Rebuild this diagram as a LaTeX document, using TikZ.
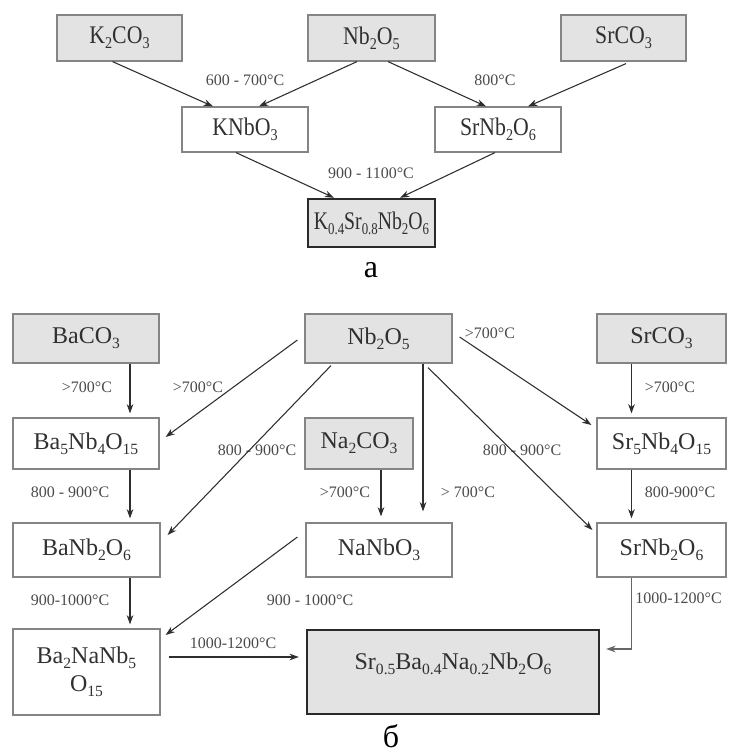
\documentclass[tikz,border=0pt]{standalone}
\usepackage{fontspec}
\setmainfont{Liberation Serif}
\usetikzlibrary{arrows.meta,calc}
\newcommand{\sbs}[1]{\raisebox{-0.2em}{\scalebox{0.65}{#1}}}
\newcommand{\na}[1]{\scalebox{0.86}[1]{#1}}
\definecolor{boxfill}{HTML}{E3E3E3}
\definecolor{boxline}{HTML}{858585}
\definecolor{resline}{HTML}{2A2A2A}
\definecolor{txt}{HTML}{303030}
\definecolor{lblc}{HTML}{4A4A4A}
\definecolor{arrc}{HTML}{2E2E2E}
\begin{document}
\begin{tikzpicture}[x=0.75pt,y=-0.75pt,
  sz/.style 2 args={minimum width=#1*0.75pt, minimum height=#2*0.75pt},
  box/.style={draw=boxline, line width=0.9pt, rectangle, inner sep=0pt, text=txt, align=center},
  abox/.style={box, font=\fontsize{19}{22}\selectfont},
  bbox/.style={box, font=\fontsize{18}{21}\selectfont},
  asrc/.style={abox, fill=boxfill},
  bsrc/.style={bbox, fill=boxfill},
  ares/.style={abox, fill=boxfill, draw=resline, line width=1.8pt},
  bres/.style={bbox, fill=boxfill, draw=resline, line width=1.8pt},
  arr/.style={-{Stealth[length=7pt,width=5pt]}, line width=0.8pt, draw=arrc},
  varr/.style={arr, shorten >=3pt},
  lbl/.style={font=\fontsize{12}{14}\selectfont, text=lblc, inner sep=0pt},
  capst/.style={font=\fontsize{24}{28}\selectfont, text=black, inner sep=0pt}
]
\useasboundingbox (0,0) rectangle (728,755);

% ---------- part a ----------
\node[asrc, sz={125}{46}] (aK)  at (119.5,38) {\na{K\sbs{2}CO\sbs{3}}};
\node[asrc, sz={127}{46}] (aNb) at (371.5,38) {\na{Nb\sbs{2}O\sbs{5}}};
\node[asrc, sz={125}{46}] (aSr) at (623.5,38) {\na{SrCO\sbs{3}}};
\node[abox, sz={126}{45}] (aKN) at (245,129.5) {\na{KNbO\sbs{3}}};
\node[abox, sz={126}{45}] (aSN) at (498,129.5) {\na{SrNb\sbs{2}O\sbs{6}}};
\node[ares, sz={127}{48}] (aF)  at (371.5,223) {\scalebox{0.78}[1]{K\sbs{0.4}Sr\sbs{0.8}Nb\sbs{2}O\sbs{6}}};

\draw[arr] ($(aK.south)+(-7,0)$) -- ($(aKN.north)+(-32,0)$);
\draw[arr] ($(aNb.south)+(-14.5,0)$) -- ($(aKN.north)+(14,0)$);
\draw[arr] ($(aNb.south)+(16.5,0)$) -- ($(aSN.north)+(-12,0)$);
\draw[arr] ($(aSr.south)+(2.5,2)$) -- ($(aSN.north)+(30,0)$);
\draw[arr] ($(aKN.south)+(-9,0)$) -- ($(aF.north)+(-37.5,0)$);
\draw[arr] ($(aSN.south)+(-3,0)$) -- ($(aF.north)+(28.5,0)$);

\node[lbl] (la1) at (245,80) {600 - 700°C};
\node[lbl] (la2) at (495,80) {800°C};
\node[lbl] (la3) at (371,173) {900 - 1100°C};

\node[capst] (capa) at (371,270) {а};

% ---------- part b ----------
\node[bsrc, sz={146}{49}] (bBa) at (86,338.5) {BaCO\sbs{3}};
\node[bsrc, sz={147}{49}] (bNb) at (378.5,338.5) {Nb\sbs{2}O\sbs{5}};
\node[bsrc, sz={129}{49}] (bSr) at (661.5,338.5) {SrCO\sbs{3}};
\node[bbox, sz={146}{51}] (bB5) at (86,443.5) {Ba\sbs{5}Nb\sbs{4}O\sbs{15}};
\node[bsrc, sz={108}{51}] (bNa) at (359,443.5) {Na\sbs{2}CO\sbs{3}};
\node[bbox, sz={129}{51}] (bS5) at (661.5,443.5) {Sr\sbs{5}Nb\sbs{4}O\sbs{15}};
\node[bbox, sz={147}{54}] (bBN) at (86.5,550) {BaNb\sbs{2}O\sbs{6}};
\node[bbox, sz={146}{54}] (bNN) at (379,550) {NaNbO\sbs{3}};
\node[bbox, sz={129}{54}] (bSN) at (661.5,550) {SrNb\sbs{2}O\sbs{6}};
\node[bbox, sz={147}{86}] (bBNa) at (86.5,672) {Ba\sbs{2}NaNb\sbs{5}\\O\sbs{15}};
\node[bres, sz={292}{84}, text depth=16pt] (bF) at (453,672) {Sr\sbs{0.5}Ba\sbs{0.4}Na\sbs{0.2}Nb\sbs{2}O\sbs{6}};

\node[lbl] (lb1)  at (87,387)  {>700°C};
\node[lbl] (lb2)  at (198,387) {>700°C};
\node[lbl] (lb3)  at (257,450) {800 - 900°C};
\node[lbl] (lb4)  at (70,492)  {800 - 900°C};
\node[lbl] (lb5)  at (345,492) {>700°C};
\node[lbl] (lb6)  at (468,492) {> 700°C};
\node[lbl] (lb7)  at (490,333) {>700°C};
\node[lbl] (lb8)  at (522,450) {800 - 900°C};
\node[lbl] (lb9)  at (670,387) {>700°C};
\node[lbl] (lb10) at (680,492) {800-900°C};
\node[lbl] (lb11) at (70,600)  {900-1000°C};
\node[lbl] (lb12) at (310,600) {900 - 1000°C};
\node[lbl, anchor=west] (lb13) at (635,598) {1000-1200°C};
\node[lbl] (lb14) at (233,643) {1000-1200°C};

\draw[varr] ($(bBa.south)+(44,0)$) -- ($(bB5.north)+(44,0)$);
\draw[varr] ($(bB5.south)+(44,0)$) -- ($(bBN.north)+(43.5,0)$);
\draw[varr] ($(bBN.south)+(43.5,0)$) -- ($(bBNa.north)+(43.5,0)$);
\draw[arr] ($(bNb.west)+(-7,1.5)$) -- ($(bB5.east)+(6,-6.5)$);
\draw[arr] ($(bNb.south)+(-47.5,2)$) -- ($(bBN.east)+(7,-15)$);
\draw[arr] ($(bNa.south)+(22,0)$) -- ($(bNN.north)+(2,-6)$);
\draw[arr] ($(bNb.south)+(44.5,0)$) -- ($(bNN.north)+(44,-11)$);
\draw[arr] ($(bNb.east)+(7,-1.5)$) -- ($(bS5.west)+(-5,-18.5)$);
\draw[arr] ($(bNb.south)+(49.5,4)$) -- ($(bSN.west)+(-4,-20)$);
\draw[varr] ($(bSr.south)+(-30,0)$) -- ($(bS5.north)+(-30,0)$);
\draw[varr] ($(bS5.south)+(-30,0)$) -- ($(bSN.north)+(-30,0)$);
\draw[arr] ($(bNN.west)+(-8,-13)$) -- ($(bBNa.east)+(5,-37)$);
\draw[arr] ($(bBNa.east)+(8,-15)$) -- ($(bF.west)+(-7,-15)$);
\draw[arr, draw=black!60] ($(bSN.south)+(-30,0)$) |- ($(bF.east)+(6,-23)$);

\node[capst] (capb) at (391,736) {б};
\end{tikzpicture}
\end{document}
